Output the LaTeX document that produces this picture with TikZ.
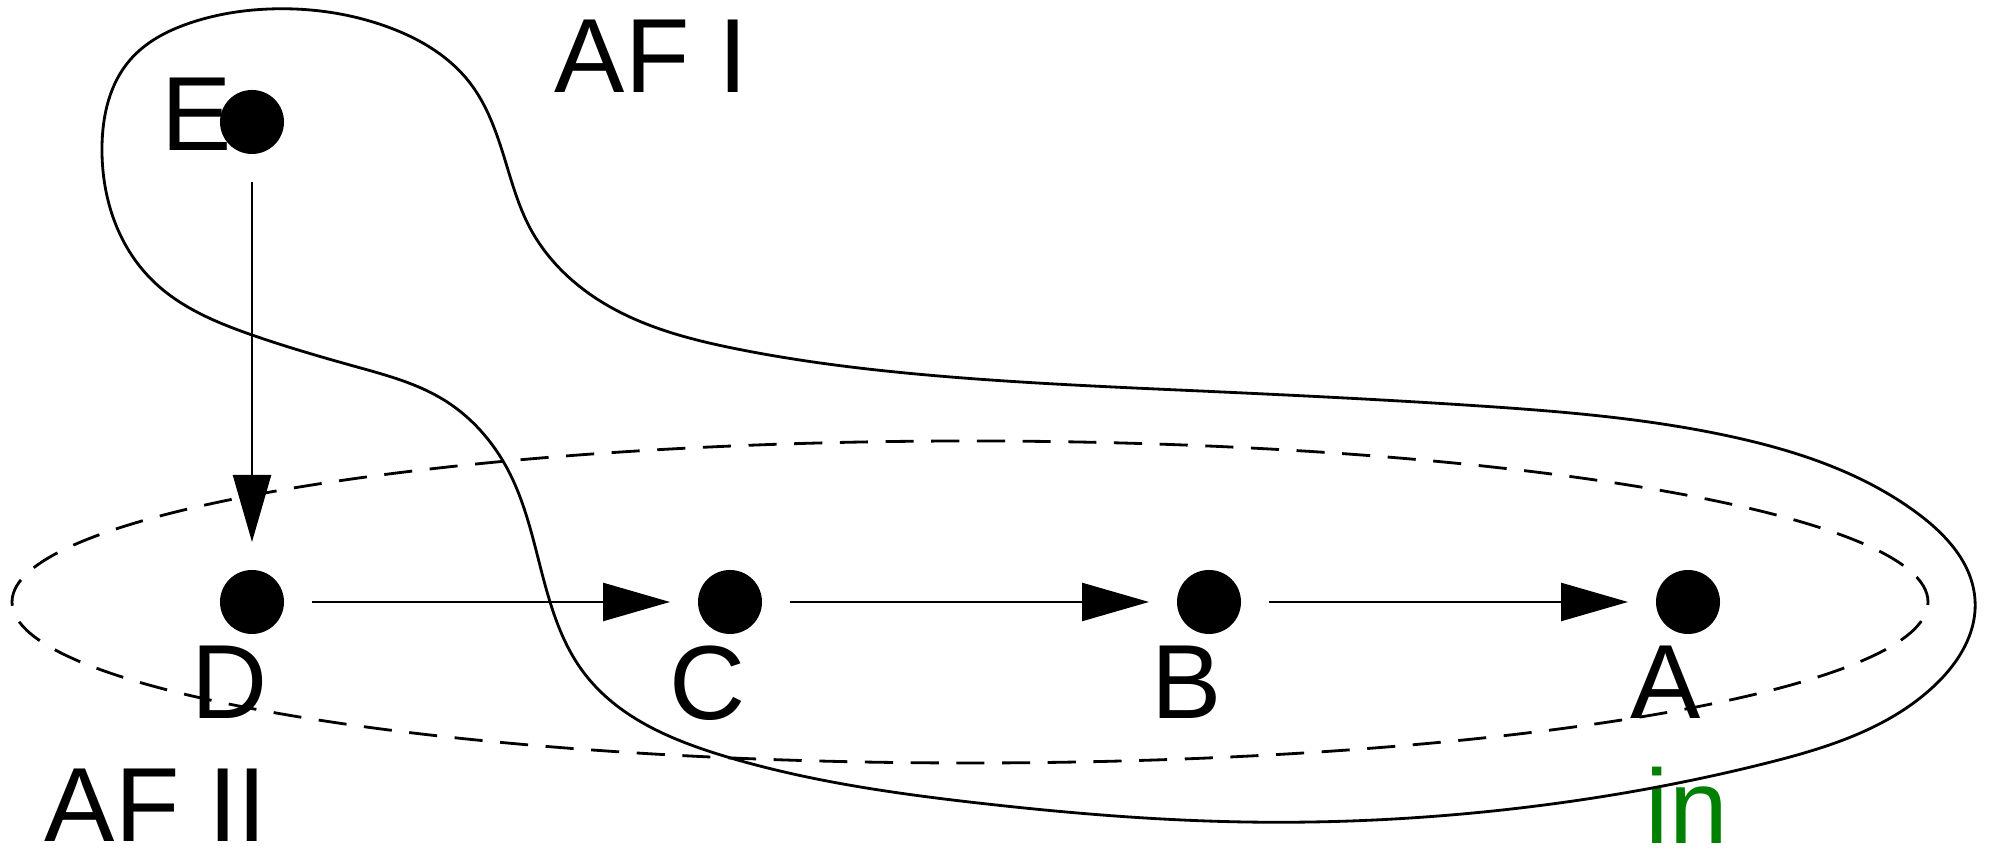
\documentclass[tikz,border=0pt]{standalone}
\usepackage{fontspec}
\setmainfont{Liberation Sans}
\usetikzlibrary{positioning, arrows.meta, hobby}
\usepackage{xcolor}
\definecolor{ingreen}{RGB}{0,128,0}

\begin{document}
\begin{tikzpicture}[
        dot/.style={circle, fill=black, inner sep=0pt, minimum size=6.4mm, outer sep=2.8mm},
        lbl/.style={inner sep=0pt, font=\fontsize{30}{36}\selectfont},
        >={Triangle[length=6.7mm, width=3.8mm]}
    ]
        \useasboundingbox (0,0) rectangle (19.92,8.5);

        \node[dot] (e) at (2.52,7.28) {};
        \node[dot] (d) at (2.52,2.48) {};
        \node[dot] (c) at (7.30,2.48) {};
        \node[dot] (b) at (12.09,2.48) {};
        \node[dot] (a) at (16.88,2.48) {};

        \node[lbl, left=1.9mm of e.center, yshift=0.8mm] (le) {E};
        \node[lbl, below=4.3mm of d.center, xshift=-2.2mm] (ld) {D};
        \node[lbl, below=4.3mm of c.center, xshift=-2.2mm] (lc) {C};
        \node[lbl, below=4.3mm of b.center, xshift=-2.2mm] (lb) {B};
        \node[lbl, below=4.3mm of a.center, xshift=-2.2mm] (la) {A};

        \node[lbl, anchor=base west] (afi) at (5.54,7.57) {AF I};
        \node[lbl, anchor=base west] (afii) at (0.44,0.08) {AF II};
        \node[lbl, anchor=base west, text=ingreen] (in) at (16.45,0.06) {in};

        % AF II
        \draw[line width=0.8pt, dash pattern=on 8pt off 5pt] (9.70,2.48) ellipse [x radius=9.58, y radius=1.61];
        % AF I
        \draw[line width=0.8pt, use Hobby shortcut, closed=true]
            (2.70,8.41) .. (3.85,8.24) .. (4.70,7.67) .. (5.05,6.90) .. (5.30,6.22) .. (5.97,5.51)
            .. (7.37,5.01) .. (9.27,4.75) .. (12.00,4.59) .. (14.80,4.44) .. (17.33,4.13)
            .. (19.17,3.37) .. (19.75,2.50) .. (19.33,1.63) .. (17.67,0.87) .. (15.20,0.42)
            .. (12.45,0.28) .. (9.78,0.47) .. (7.24,0.94) .. (5.84,1.77) .. (5.36,3.00)
            .. (5.08,3.80) .. (4.44,4.50) .. (3.57,4.83) .. (2.52,5.15) .. (1.52,5.70)
            .. (1.02,7.04) .. (1.30,7.90) .. (1.90,8.27);

        \draw[->, line width=0.7pt] (e) -- (d);
        \draw[->, line width=0.7pt] (d) -- (c);
        \draw[->, line width=0.7pt] (c) -- (b);
        \draw[->, line width=0.7pt] (b) -- (a);
    \end{tikzpicture}
\end{document}
